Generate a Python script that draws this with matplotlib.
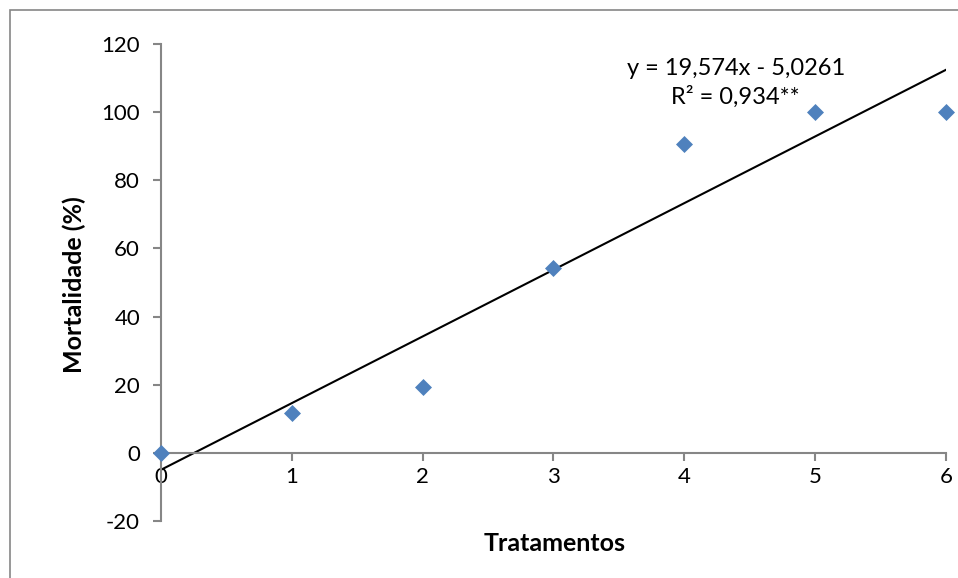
import numpy as np
import matplotlib
matplotlib.use("Agg")
import matplotlib.pyplot as plt
from matplotlib.patches import Rectangle

tratamentos = [0, 1, 2, 3, 4, 5, 6]
mortalidade = [0.0, 11.7, 19.4, 54.3, 90.7, 100.0, 100.0]
yticks = [-20, 0, 20, 40, 60, 80, 100, 120]
xticks = [0, 1, 2, 3, 4, 5, 6]
eq_text = "y = 19,574x - 5,0261"
r2_text = "R² = 0,934**"

plt.rcParams['font.family'] = ['Lato', 'DejaVu Sans']
plt.rcParams['axes.unicode_minus'] = False

fig = plt.figure(figsize=(9.58, 5.78), dpi=100)
ax = fig.add_axes([0.168, 0.0986, 0.8195, 0.8253])

gray = '#868686'
ax.scatter(tratamentos, mortalidade, marker='D', s=75, color='#4F81BD', zorder=3,
           linewidths=0, clip_on=False)

coef = np.polyfit(tratamentos, mortalidade, 1)
xl = np.array([min(tratamentos), max(tratamentos)])
ax.plot(xl, np.polyval(coef, xl), color='black', lw=1.5, zorder=2)

ax.set_xlim(0, 6)
ax.set_ylim(-20, 120)
ax.set_xticks(xticks)
ax.set_yticks(yticks)
for s in ['top', 'right']:
    ax.spines[s].set_visible(False)
ax.spines['bottom'].set_position(('data', 0))
ax.spines['left'].set_position(('data', 0))
for s in ['bottom', 'left']:
    ax.spines[s].set_color(gray)
    ax.spines[s].set_linewidth(1.5)
ax.tick_params(axis='both', colors=gray, width=1.5, length=6, labelcolor='black', labelsize=16)
ax.tick_params(axis='x', pad=4)
ax.tick_params(axis='y', pad=9)

fig.text(0.078, 0.507, 'Mortalidade (%)', rotation=90, ha='center', va='center',
         fontsize=18, fontweight='bold')
fig.text(0.579, 0.060, 'Tratamentos', ha='center', va='center', fontsize=18, fontweight='bold')

fig.text(0.768, 0.882, eq_text, ha='center', va='center', fontsize=17)
fig.text(0.768, 0.832, r2_text, ha='center', va='center', fontsize=17)

fig.patches.append(Rectangle((10/958, -0.1), 1.2, 1.1 - 10/578,
                             transform=fig.transFigure, fill=False,
                             edgecolor='#868686', lw=1.2))

fig.savefig('out.png', dpi=100)
